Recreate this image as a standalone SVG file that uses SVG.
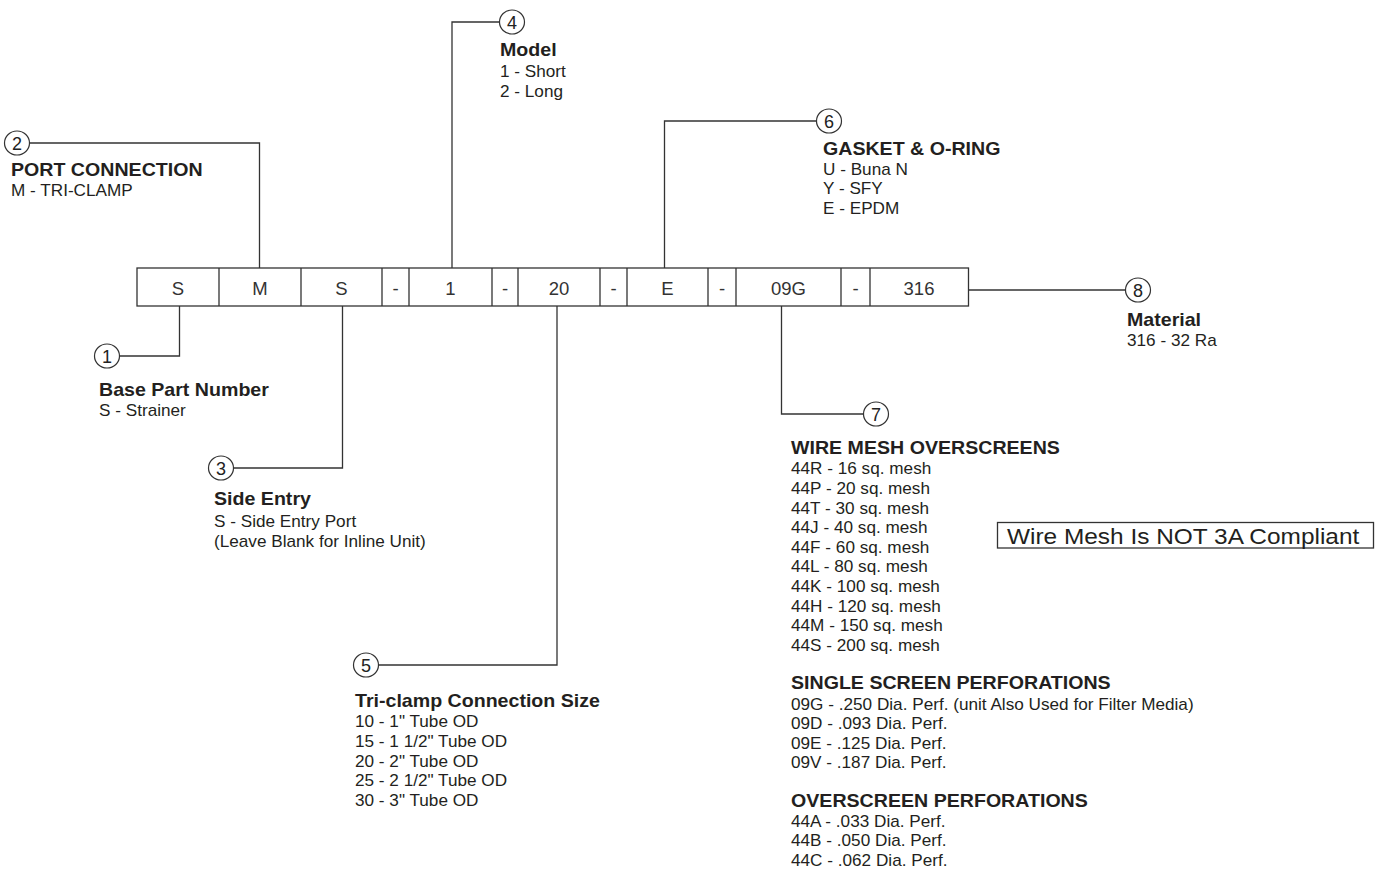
<svg xmlns="http://www.w3.org/2000/svg" width="1376" height="869" viewBox="0 0 1376 869">
<style>
.ln{fill:none;stroke:#333;stroke-width:1.3}
.box{fill:none;stroke:#333;stroke-width:1.3}
.cir{fill:#fff;stroke:#333;stroke-width:1.2}
.num{font-family:"Liberation Sans",Arial,sans-serif;font-size:18px;fill:#222;text-anchor:middle}
.cell{font-family:"Liberation Sans",Arial,sans-serif;font-size:18.5px;fill:#333;text-anchor:middle}
.t{font-family:"Liberation Sans",Arial,sans-serif;font-size:18.5px;font-weight:bold;fill:#231f20}
.r{font-family:"Liberation Sans",Arial,sans-serif;font-size:16.2px;fill:#231f20}
.note{font-family:"Liberation Sans",Arial,sans-serif;font-size:22px;fill:#231f20}
</style>
<rect width="1376" height="869" fill="#fff"/>
<g id="connectors" class="ln">
<polyline points="17,143 259.5,143 259.5,268"/>
<polyline points="512,22 452,22 452,268"/>
<polyline points="829,121 664.5,121 664.5,268"/>
<polyline points="968.5,290 1138,290"/>
<polyline points="179.5,306 179.5,356 107,356"/>
<polyline points="342.5,306 342.5,468 221,468"/>
<polyline points="557,306 557,665 366,665"/>
<polyline points="781.5,306 781.5,414 876,414"/>
</g>
<g id="code-box">
<rect class="box" x="137" y="268" width="831.5" height="38"/>
<path class="box" d="M219,268V306M301,268V306M382,268V306M409,268V306M492,268V306M518,268V306M600,268V306M627,268V306M708,268V306M736,268V306M841,268V306M870,268V306"/>
<text class="cell" x="178" y="294.5">S</text>
<text class="cell" x="260" y="294.5">M</text>
<text class="cell" x="341.5" y="294.5">S</text>
<text class="cell" x="395.5" y="294.5">-</text>
<text class="cell" x="450.5" y="294.5">1</text>
<text class="cell" x="505" y="294.5">-</text>
<text class="cell" x="559" y="294.5">20</text>
<text class="cell" x="613.5" y="294.5">-</text>
<text class="cell" x="667.5" y="294.5">E</text>
<text class="cell" x="722" y="294.5">-</text>
<text class="cell" x="788.5" y="294.5">09G</text>
<text class="cell" x="855.5" y="294.5">-</text>
<text class="cell" x="919" y="294.5">316</text>
</g>
<g id="callout-1">
<ellipse class="cir" cx="107" cy="356" rx="12.5" ry="12"/>
<text class="num" x="107" y="362.5">1</text>
<g transform="translate(99 0) scale(1.06 1)">
<text class="t" x="0" y="396">Base Part Number</text>
<text class="r" x="0" y="416">S - Strainer</text>
</g>
</g>
<g id="callout-2">
<ellipse class="cir" cx="17" cy="143" rx="12.5" ry="12"/>
<text class="num" x="17" y="149.5">2</text>
<g transform="translate(11 0) scale(1.06 1)">
<text class="t" x="0" y="176">PORT CONNECTION</text>
<text class="r" x="0" y="196">M - TRI-CLAMP</text>
</g>
</g>
<g id="callout-3">
<ellipse class="cir" cx="221" cy="468" rx="12.5" ry="12"/>
<text class="num" x="221" y="474.5">3</text>
<g transform="translate(214 0) scale(1.06 1)">
<text class="t" x="0" y="505">Side Entry</text>
<text class="r" x="0" y="527">S - Side Entry Port</text>
<text class="r" x="0" y="547">(Leave Blank for Inline Unit)</text>
</g>
</g>
<g id="callout-4">
<ellipse class="cir" cx="512" cy="22" rx="12.5" ry="12"/>
<text class="num" x="512" y="28.5">4</text>
<g transform="translate(500 0) scale(1.06 1)">
<text class="t" x="0" y="56">Model</text>
<text class="r" x="0" y="77">1 - Short</text>
<text class="r" x="0" y="97">2 - Long</text>
</g>
</g>
<g id="callout-5">
<ellipse class="cir" cx="366" cy="665" rx="12.5" ry="12"/>
<text class="num" x="366" y="671.5">5</text>
<g transform="translate(355 0) scale(1.06 1)">
<text class="t" x="0" y="707">Tri-clamp Connection Size</text>
<text class="r" x="0" y="727">10 - 1" Tube OD</text>
<text class="r" x="0" y="747">15 - 1 1/2" Tube OD</text>
<text class="r" x="0" y="767">20 - 2" Tube OD</text>
<text class="r" x="0" y="786">25 - 2 1/2" Tube OD</text>
<text class="r" x="0" y="806">30 - 3" Tube OD</text>
</g>
</g>
<g id="callout-6">
<ellipse class="cir" cx="829" cy="121" rx="12.5" ry="12"/>
<text class="num" x="829" y="127.5">6</text>
<g transform="translate(823 0) scale(1.06 1)">
<text class="t" x="0" y="155">GASKET &amp; O-RING</text>
<text class="r" x="0" y="175">U - Buna N</text>
<text class="r" x="0" y="194">Y - SFY</text>
<text class="r" x="0" y="214">E - EPDM</text>
</g>
</g>
<g id="callout-7">
<ellipse class="cir" cx="876" cy="414" rx="12.5" ry="12"/>
<text class="num" x="876" y="420.5">7</text>
<g transform="translate(791 0) scale(1.06 1)">
<text class="t" x="0" y="454">WIRE MESH OVERSCREENS</text>
<text class="r" x="0" y="474">44R - 16 sq. mesh</text>
<text class="r" x="0" y="494">44P - 20 sq. mesh</text>
<text class="r" x="0" y="514">44T - 30 sq. mesh</text>
<text class="r" x="0" y="533">44J - 40 sq. mesh</text>
<text class="r" x="0" y="553">44F - 60 sq. mesh</text>
<text class="r" x="0" y="572">44L - 80 sq. mesh</text>
<text class="r" x="0" y="592">44K - 100 sq. mesh</text>
<text class="r" x="0" y="612">44H - 120 sq. mesh</text>
<text class="r" x="0" y="631">44M - 150 sq. mesh</text>
<text class="r" x="0" y="651">44S - 200 sq. mesh</text>
<text class="t" x="0" y="689">SINGLE SCREEN PERFORATIONS</text>
<text class="r" x="0" y="710">09G - .250 Dia. Perf. (unit Also Used for Filter Media)</text>
<text class="r" x="0" y="729">09D - .093 Dia. Perf.</text>
<text class="r" x="0" y="749">09E - .125 Dia. Perf.</text>
<text class="r" x="0" y="768">09V - .187 Dia. Perf.</text>
<text class="t" x="0" y="807">OVERSCREEN PERFORATIONS</text>
<text class="r" x="0" y="827">44A - .033 Dia. Perf.</text>
<text class="r" x="0" y="846">44B - .050 Dia. Perf.</text>
<text class="r" x="0" y="866">44C - .062 Dia. Perf.</text>
</g>
</g>
<g id="callout-8">
<ellipse class="cir" cx="1138" cy="290" rx="12.5" ry="12"/>
<text class="num" x="1138" y="296.5">8</text>
<g transform="translate(1127 0) scale(1.06 1)">
<text class="t" x="0" y="326">Material</text>
<text class="r" x="0" y="346">316 - 32 Ra</text>
</g>
</g>
<g id="note">
<rect class="box" x="997.5" y="522.5" width="376" height="25.5"/>
<g transform="translate(1007 0) scale(1.11 1)">
<text class="note" x="0" y="544">Wire Mesh Is NOT 3A Compliant</text>
</g>
</g>
</svg>
